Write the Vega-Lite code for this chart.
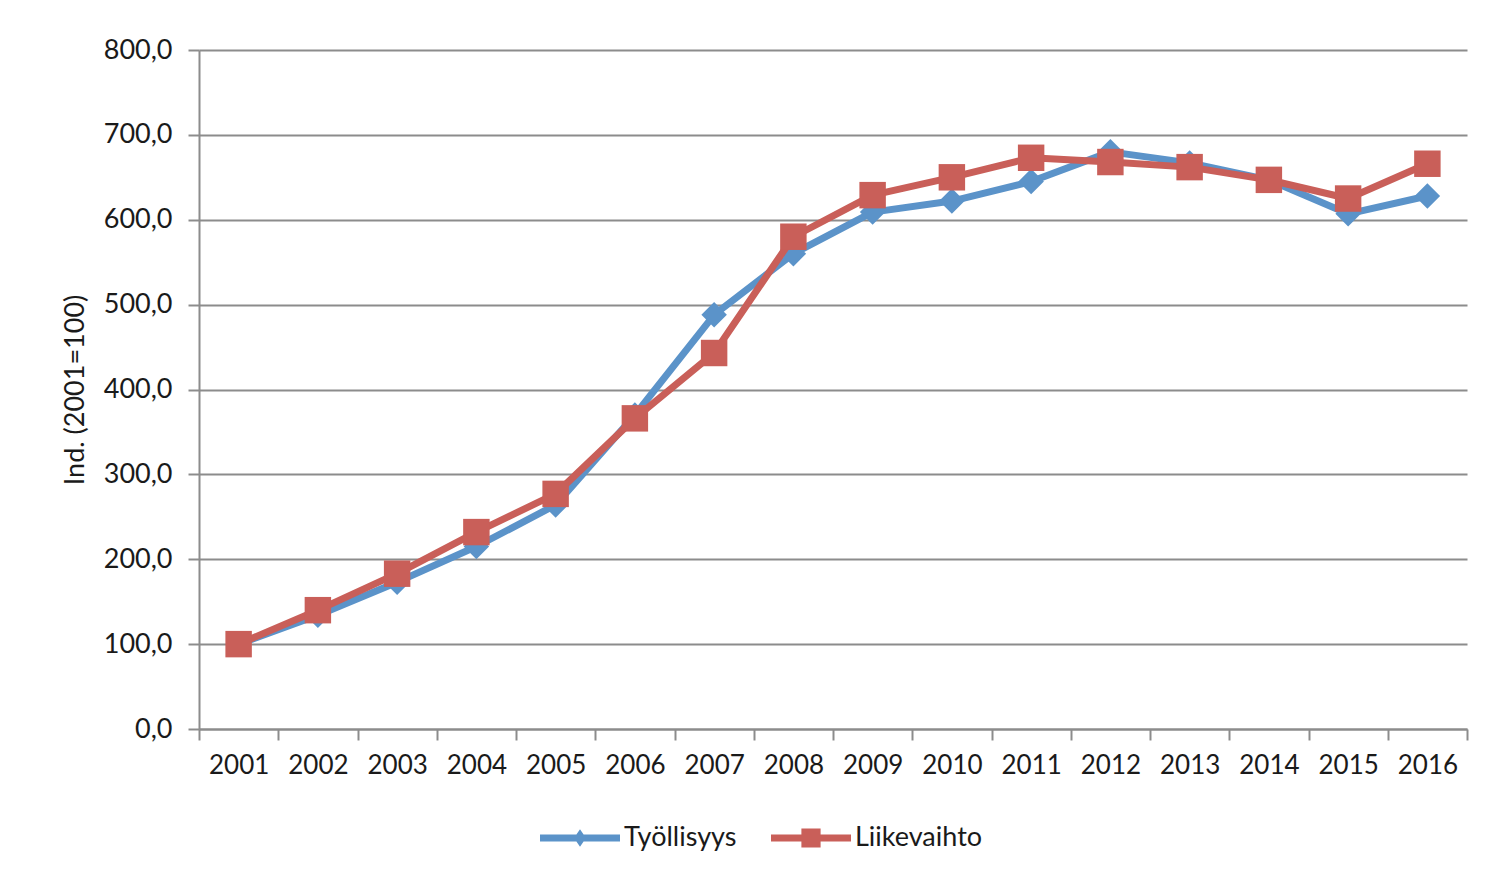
{
  "$schema": "https://vega.github.io/schema/vega-lite/v6.json",
  "autosize": "none",
  "width": 1268,
  "height": 679,
  "padding": {"left": 199, "top": 50, "right": 24, "bottom": 154},
  "background": "white",
  "config": {
    "font": "Lato",
    "view": {"stroke": null}
  },
  "data": {
    "values": [
      {"year": "2001", "series": "Työllisyys", "value": 100},
      {"year": "2002", "series": "Työllisyys", "value": 134},
      {"year": "2003", "series": "Työllisyys", "value": 173},
      {"year": "2004", "series": "Työllisyys", "value": 215},
      {"year": "2005", "series": "Työllisyys", "value": 264},
      {"year": "2006", "series": "Työllisyys", "value": 370},
      {"year": "2007", "series": "Työllisyys", "value": 488},
      {"year": "2008", "series": "Työllisyys", "value": 560},
      {"year": "2009", "series": "Työllisyys", "value": 609},
      {"year": "2010", "series": "Työllisyys", "value": 622},
      {"year": "2011", "series": "Työllisyys", "value": 645},
      {"year": "2012", "series": "Työllisyys", "value": 680},
      {"year": "2013", "series": "Työllisyys", "value": 667},
      {"year": "2014", "series": "Työllisyys", "value": 647},
      {"year": "2015", "series": "Työllisyys", "value": 607},
      {"year": "2016", "series": "Työllisyys", "value": 628},
      {"year": "2001", "series": "Liikevaihto", "value": 100},
      {"year": "2002", "series": "Liikevaihto", "value": 140},
      {"year": "2003", "series": "Liikevaihto", "value": 183},
      {"year": "2004", "series": "Liikevaihto", "value": 232},
      {"year": "2005", "series": "Liikevaihto", "value": 277},
      {"year": "2006", "series": "Liikevaihto", "value": 366},
      {"year": "2007", "series": "Liikevaihto", "value": 443},
      {"year": "2008", "series": "Liikevaihto", "value": 580},
      {"year": "2009", "series": "Liikevaihto", "value": 629},
      {"year": "2010", "series": "Liikevaihto", "value": 650},
      {"year": "2011", "series": "Liikevaihto", "value": 673},
      {"year": "2012", "series": "Liikevaihto", "value": 668},
      {"year": "2013", "series": "Liikevaihto", "value": 662},
      {"year": "2014", "series": "Liikevaihto", "value": 647},
      {"year": "2015", "series": "Liikevaihto", "value": 625},
      {"year": "2016", "series": "Liikevaihto", "value": 666}
    ]
  },
  "encoding": {
    "x": {
      "field": "year",
      "type": "ordinal",
      "scale": {"type": "band", "paddingInner": 0, "paddingOuter": 0},
      "axis": {
        "title": null,
        "labelAngle": 0,
        "labelFontSize": 26,
        "labelColor": "#1a1a1a",
        "labelPadding": 12,
        "tickBand": "extent",
        "tickSize": 11,
        "tickColor": "#8c8c8c",
        "tickWidth": 2,
        "domainColor": "#8c8c8c",
        "domainWidth": 2,
        "grid": false
      }
    },
    "y": {
      "field": "value",
      "type": "quantitative",
      "scale": {"domain": [0, 800], "nice": false},
      "axis": {
        "title": "Ind. (2001=100)",
        "titleFontSize": 27,
        "titleFontWeight": "normal",
        "titleColor": "#1a1a1a",
        "titlePadding": 14,
        "values": [0, 100, 200, 300, 400, 500, 600, 700, 800],
        "labelExpr": "replace(format(datum.value, '.1f'), '.', ',')",
        "labelFontSize": 27,
        "labelColor": "#1a1a1a",
        "labelPadding": 16,
        "tickSize": 11,
        "tickColor": "#8c8c8c",
        "tickWidth": 2,
        "domainColor": "#8c8c8c",
        "domainWidth": 2,
        "grid": true,
        "gridColor": "#8c8c8c",
        "gridWidth": 2
      }
    },
    "color": {
      "field": "series",
      "type": "nominal",
      "scale": {"domain": ["Työllisyys", "Liikevaihto"], "range": ["#5b93c9", "#c95f59"]},
      "legend": {
        "title": null,
        "orient": "none",
        "direction": "horizontal",
        "legendX": 341,
        "legendY": 748,
        "labelFontSize": 27,
        "labelColor": "#1a1a1a",
        "labelOffset": 4,
        "symbolSize": 6400,
        "columnPadding": 34,
        "symbolStrokeWidth": 0,
        "symbolOpacity": 1,
        "encode": {
          "symbols": {
            "update": {
              "shape": {"signal": "datum.value === 'Työllisyys' ? 'M-1,-0.09H1V0.09H-1Z M0,-0.22L0.15,0L0,0.22L-0.15,0Z' : 'M-1,-0.09H1V0.09H-1Z M-0.24,-0.24H0.24V0.24H-0.24Z'"},
              "fill": {"signal": "scale('color', datum.value)"},
              "strokeWidth": {"value": 0},
              "opacity": {"value": 1}
            }
          }
        }
      }
    }
  },
  "layer": [
    {
      "transform": [{"filter": "datum.series === 'Työllisyys'"}],
      "mark": {"type": "line", "strokeWidth": 7, "strokeJoin": "round", "strokeCap": "round"}
    },
    {
      "transform": [{"filter": "datum.series === 'Työllisyys'"}],
      "mark": {"type": "point", "shape": "diamond", "filled": true, "size": 650, "opacity": 1}
    },
    {
      "transform": [{"filter": "datum.series === 'Liikevaihto'"}],
      "mark": {"type": "line", "strokeWidth": 7, "strokeJoin": "round", "strokeCap": "round"}
    },
    {
      "transform": [{"filter": "datum.series === 'Liikevaihto'"}],
      "mark": {"type": "point", "shape": "square", "filled": true, "size": 700, "opacity": 1}
    }
  ]
}
